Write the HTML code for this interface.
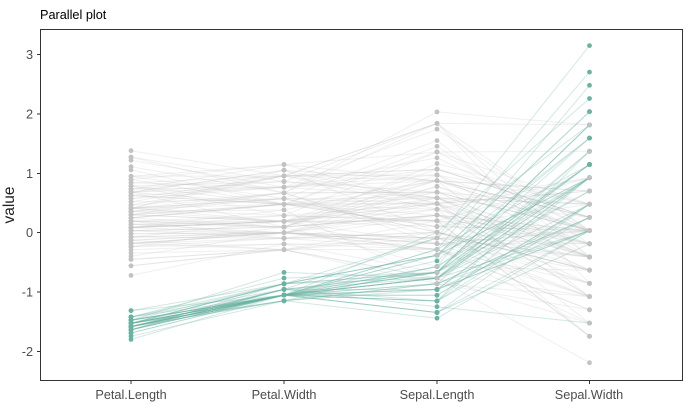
<!DOCTYPE html>
<html><head><meta charset="utf-8"><style>
html,body{margin:0;padding:0;background:#fff;}
svg{display:block;font-family:"Liberation Sans",sans-serif;}
</style></head><body>
<svg id="s" width="688" height="408" xmlns="http://www.w3.org/2000/svg">
<rect width="688" height="408" fill="#fff"/>
<text x="40" y="19" font-size="12.7" fill="#000">Parallel plot</text>
<g id="plot"></g>
<rect x="40.5" y="29.5" width="642" height="351" fill="none" stroke="#333" stroke-width="1"/>
<g font-size="12.7" fill="#4d4d4d" text-anchor="end">
<text x="33" y="59">3</text><text x="33" y="118.5">2</text><text x="33" y="178">1</text>
<text x="33" y="237">0</text><text x="33" y="296.5">-1</text><text x="33" y="356">-2</text>
</g>
<g stroke="#333"><line x1="37" x2="40" y1="54.5" y2="54.5"/><line x1="37" x2="40" y1="114" y2="114"/><line x1="37" x2="40" y1="173.5" y2="173.5"/><line x1="37" x2="40" y1="232.5" y2="232.5"/><line x1="37" x2="40" y1="292" y2="292"/><line x1="37" x2="40" y1="351.5" y2="351.5"/>
<line x1="131" x2="131" y1="381" y2="384"/><line x1="284" x2="284" y1="381" y2="384"/><line x1="437" x2="437" y1="381" y2="384"/><line x1="589.5" x2="589.5" y1="381" y2="384"/></g>
<g font-size="12.7" fill="#4d4d4d" text-anchor="middle">
<text x="131" y="399">Petal.Length</text><text x="284" y="399">Petal.Width</text><text x="437" y="399">Sepal.Length</text><text x="589" y="399">Sepal.Width</text>
</g>
<text transform="translate(14,205) rotate(-90)" font-size="15.5" fill="#222" text-anchor="middle">value</text>
</svg>
<script>
var D="5.1 3.5 1.4 0.2,4.9 3.0 1.4 0.2,4.7 3.2 1.3 0.2,4.6 3.1 1.5 0.2,5.0 3.6 1.4 0.2,5.4 3.9 1.7 0.4,4.6 3.4 1.4 0.3,5.0 3.4 1.5 0.2,4.4 2.9 1.4 0.2,4.9 3.1 1.5 0.1,5.4 3.7 1.5 0.2,4.8 3.4 1.6 0.2,4.8 3.0 1.4 0.1,4.3 3.0 1.1 0.1,5.8 4.0 1.2 0.2,5.7 4.4 1.5 0.4,5.4 3.9 1.3 0.4,5.1 3.5 1.4 0.3,5.7 3.8 1.7 0.3,5.1 3.8 1.5 0.3,5.4 3.4 1.7 0.2,5.1 3.7 1.5 0.4,4.6 3.6 1.0 0.2,5.1 3.3 1.7 0.5,4.8 3.4 1.9 0.2,5.0 3.0 1.6 0.2,5.0 3.4 1.6 0.4,5.2 3.5 1.5 0.2,5.2 3.4 1.4 0.2,4.7 3.2 1.6 0.2,4.8 3.1 1.6 0.2,5.4 3.4 1.5 0.4,5.2 4.1 1.5 0.1,5.5 4.2 1.4 0.2,4.9 3.1 1.5 0.2,5.0 3.2 1.2 0.2,5.5 3.5 1.3 0.2,4.9 3.6 1.4 0.1,4.4 3.0 1.3 0.2,5.1 3.4 1.5 0.2,5.0 3.5 1.3 0.3,4.5 2.3 1.3 0.3,4.4 3.2 1.3 0.2,5.0 3.5 1.6 0.6,5.1 3.8 1.9 0.4,4.8 3.0 1.4 0.3,5.1 3.8 1.6 0.2,4.6 3.2 1.4 0.2,5.3 3.7 1.5 0.2,5.0 3.3 1.4 0.2,7.0 3.2 4.7 1.4,6.4 3.2 4.5 1.5,6.9 3.1 4.9 1.5,5.5 2.3 4.0 1.3,6.5 2.8 4.6 1.5,5.7 2.8 4.5 1.3,6.3 3.3 4.7 1.6,4.9 2.4 3.3 1.0,6.6 2.9 4.6 1.3,5.2 2.7 3.9 1.4,5.0 2.0 3.5 1.0,5.9 3.0 4.2 1.5,6.0 2.2 4.0 1.0,6.1 2.9 4.7 1.4,5.6 2.9 3.6 1.3,6.7 3.1 4.4 1.4,5.6 3.0 4.5 1.5,5.8 2.7 4.1 1.0,6.2 2.2 4.5 1.5,5.6 2.5 3.9 1.1,5.9 3.2 4.8 1.8,6.1 2.8 4.0 1.3,6.3 2.5 4.9 1.5,6.1 2.8 4.7 1.2,6.4 2.9 4.3 1.3,6.6 3.0 4.4 1.4,6.8 2.8 4.8 1.4,6.7 3.0 5.0 1.7,6.0 2.9 4.5 1.5,5.7 2.6 3.5 1.0,5.5 2.4 3.8 1.1,5.5 2.4 3.7 1.0,5.8 2.7 3.9 1.2,6.0 2.7 5.1 1.6,5.4 3.0 4.5 1.5,6.0 3.4 4.5 1.6,6.7 3.1 4.7 1.5,6.3 2.3 4.4 1.3,5.6 3.0 4.1 1.3,5.5 2.5 4.0 1.3,5.5 2.6 4.4 1.2,6.1 3.0 4.6 1.4,5.8 2.6 4.0 1.2,5.0 2.3 3.3 1.0,5.6 2.7 4.2 1.3,5.7 3.0 4.2 1.2,5.7 2.9 4.2 1.3,6.2 2.9 4.3 1.3,5.1 2.5 3.0 1.1,5.7 2.8 4.1 1.3,6.3 3.3 6.0 2.5,5.8 2.7 5.1 1.9,7.1 3.0 5.9 2.1,6.3 2.9 5.6 1.8,6.5 3.0 5.8 2.2,7.6 3.0 6.6 2.1,4.9 2.5 4.5 1.7,7.3 2.9 6.3 1.8,6.7 2.5 5.8 1.8,7.2 3.6 6.1 2.5,6.5 3.2 5.1 2.0,6.4 2.7 5.3 1.9,6.8 3.0 5.5 2.1,5.7 2.5 5.0 2.0,5.8 2.8 5.1 2.4,6.4 3.2 5.3 2.3,6.5 3.0 5.5 1.8,7.7 3.8 6.7 2.2,7.7 2.6 6.9 2.3,6.0 2.2 5.0 1.5,6.9 3.2 5.7 2.3,5.6 2.8 4.9 2.0,7.7 2.8 6.7 2.0,6.3 2.7 4.9 1.8,6.7 3.3 5.7 2.1,7.2 3.2 6.0 1.8,6.2 2.8 4.8 1.8,6.1 3.0 4.9 1.8,6.4 2.8 5.6 2.1,7.2 3.0 5.8 1.6,7.4 2.8 6.1 1.9,7.9 3.8 6.4 2.0,6.4 2.8 5.6 2.2,6.3 2.8 5.1 1.5,6.1 2.6 5.6 1.4,7.7 3.0 6.1 2.3,6.3 3.4 5.6 2.4,6.4 3.1 5.5 1.8,6.0 3.0 4.8 1.8,6.9 3.1 5.4 2.1,6.7 3.1 5.6 2.4,6.9 3.1 5.1 2.3,5.8 2.7 5.1 1.9,6.8 3.2 5.9 2.3,6.7 3.3 5.7 2.5,6.7 3.0 5.2 2.3,6.3 2.5 5.0 1.9,6.5 3.0 5.2 2.0,6.2 3.4 5.4 2.3,5.9 3.0 5.1 1.8";
var rows=D.split(",").map(function(r){return r.split(" ").map(Number);});
var n=rows.length;
var order=[2,3,0,1];
var st=[0,1,2,3].map(function(j){var m=0;rows.forEach(function(r){m+=r[j];});m/=n;var v=0;rows.forEach(function(r){v+=(r[j]-m)*(r[j]-m);});return [m,Math.sqrt(v/(n-1))];});
var adj={0:[0.8,0.046],1:[0.971,0.16],2:[0.952,-0.315],3:[0.73,-0.099]};
var X=[131,284,437,589.5];
function Y(v){return 232.5-v*59.3;}
var gl="",tl="",gp="",tp="";
function draw(i,teal){var r=rows[i];var col=teal?"#69b3a2":"#c2c2c2";
var p=order.map(function(j,k){var z=(r[j]-st[j][0])/st[j][1];z=z*adj[j][0]+adj[j][1];return X[k].toFixed(1)+","+Y(z).toFixed(1);});
var l='<polyline points="'+p.join(" ")+'" fill="none" stroke="'+col+'" stroke-opacity="'+(teal?0.3:0.25)+'" stroke-width="1"/>';
var c="";p.forEach(function(q){var a=q.split(",");c+='<circle cx="'+a[0]+'" cy="'+a[1]+'" r="2.4" fill="'+col+'"/>';});
if(teal){tl+=l;tp+=c;}else{gl+=l;gp+=c;}}
for(var i=50;i<150;i++)draw(i,false);
for(var i=0;i<50;i++)draw(i,true);
document.getElementById("plot").innerHTML=gl+tl+tp+gp;
</script>
</body></html>
